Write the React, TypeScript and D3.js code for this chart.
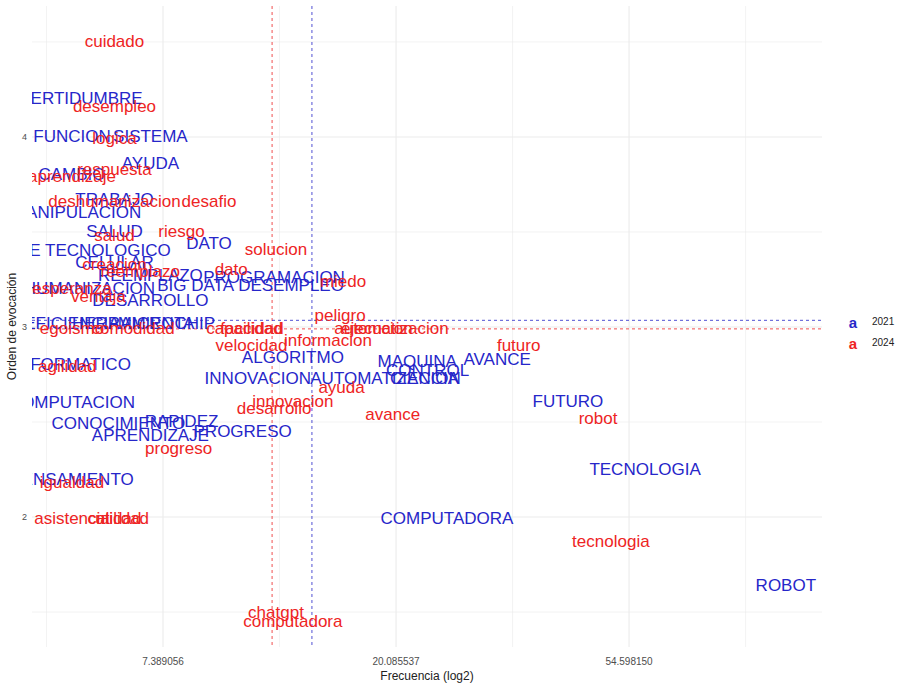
import React from "react";
import * as d3 from "d3";

// ---- data (frequency, evocation order) ----
const words2021 = [
  "INCERTIDUMBRE", "FUNCION", "SISTEMA", "AYUDA", "CAMBIO", "TRABAJO", "MANIPULACION",
  "SALUD", "DATO", "AVANCE TECNOLOGICO", "CELULAR", "REEMPLAZO", "PROGRAMACION",
  "DESHUMANIZACION", "BIG DATA", "DESEMPLEO", "DESARROLLO", "EFICIENCIA", "HERRAMIENTA",
  "MICROCHIP", "ALGORITMO", "MAQUINA", "AVANCE", "CONTROL", "AUTOMATIZACION", "CIENCIA",
  "INNOVACION", "INFORMATICO", "COMPUTACION", "CONOCIMIENTO", "RAPIDEZ", "PROGRESO",
  "APRENDIZAJE", "FUTURO", "TECNOLOGIA", "COMPUTADORA", "ROBOT", "PENSAMIENTO",
];
const freq2021 = [
  5, 5, 7, 7, 5, 6, 5.1,
  6, 9, 5, 6, 7, 11.9,
  5, 8.5, 12.8, 7, 5, 6.5,
  7.5, 12.9, 22, 31, 23, 19.2, 22.7,
  11.1, 5, 5, 6.1, 8, 10.4,
  7, 42, 58.5, 25, 107, 5,
];
const orden2021 = [
  4.2, 4.0, 4.0, 3.86, 3.8, 3.67, 3.6,
  3.5, 3.44, 3.4, 3.34, 3.27, 3.26,
  3.2, 3.22, 3.22, 3.14, 3.02, 3.02,
  3.02, 2.84, 2.82, 2.83, 2.77, 2.73, 2.73,
  2.73, 2.8, 2.6, 2.49, 2.5, 2.45,
  2.43, 2.61, 2.25, 1.99, 1.64, 2.2,
];

const words2024 = [
  "cuidado", "desempleo", "logica", "respuesta", "aprendizaje", "deshumanizacion", "desafio",
  "salud", "riesgo", "solucion", "creacion", "reemplazo", "dato", "miedo", "esperanza",
  "ventaja", "peligro", "egoismo", "comodidad", "capacidad", "facilidad", "automatizacion",
  "ejecucion", "futuro", "velocidad", "informacion", "ayuda", "innovacion", "desarrollo",
  "avance", "robot", "tecnologia", "chatgpt", "computadora", "progreso", "agilidad",
  "igualdad", "asistencia", "utilidad", "calidad",
];
const freq2024 = [
  6, 6, 6, 6, 5, 6, 9,
  6, 8, 12, 6, 6.7, 9.9, 16, 5,
  5.6, 15.8, 5, 6.5, 10.5, 10.8, 19.7,
  18.5, 34, 10.8, 15, 15.9, 12.9, 11.9,
  19.8, 47.8, 50.5, 12, 12.9, 7.9, 4.9,
  5, 5, 6.2, 6,
];
const orden2024 = [
  4.5, 4.16, 3.99, 3.83, 3.79, 3.66, 3.66,
  3.48, 3.5, 3.41, 3.33, 3.29, 3.3, 3.24, 3.2,
  3.16, 3.06, 2.99, 2.99, 2.99, 2.99, 2.99,
  2.99, 2.9, 2.9, 2.93, 2.68, 2.61, 2.57,
  2.54, 2.52, 1.87, 1.5, 1.45, 2.36, 2.79,
  2.18, 1.99, 1.99, 1.99,
];

const cutFreq = { y2021: 14, y2024: 11.8 };
const cutOrden = { y2021: 3.035, y2024: 2.99 };

const xTicks = [Math.exp(2), Math.exp(3), Math.exp(4)];
const xMinor = [Math.exp(1.5), Math.exp(2.5), Math.exp(3.5), Math.exp(4.5)];
const yTicks = [2, 3, 4];
const yMinor = [1.5, 2.5, 3.5, 4.5];

const seriesNames = ["2021", "2024"];
const seriesColors = ["#2626c9", "#ee2424"];

const W = 898, H = 683;
const panel = { left: 32, right: 822, top: 6, bottom: 647 };

export default function App() {
  const x = d3.scaleLog().domain([Math.exp(1.4378), Math.exp(4.828)]).range([panel.left, panel.right]);
  const y = d3.scaleLinear().domain([1.316, 4.689]).range([panel.bottom, panel.top]);
  const font = "'Liberation Sans', Arial, sans-serif";
  const grid = "#ebebeb";

  const series = [
    { words: words2021, freq: freq2021, orden: orden2021, color: seriesColors[0] },
    { words: words2024, freq: freq2024, orden: orden2024, color: seriesColors[1] },
  ];

  return (
    <svg width={W} height={H} style={{ position: "absolute", left: 0, top: 0, background: "#fff" }} fontFamily={font}>
      <defs>
        <clipPath id="pclip">
          <rect x={panel.left} y={panel.top} width={panel.right - panel.left} height={panel.bottom - panel.top} />
        </clipPath>
      </defs>
      {/* grid */}
      {xMinor.map((v, i) => (
        <line key={"xm" + i} x1={x(v)} x2={x(v)} y1={panel.top} y2={panel.bottom} stroke={grid} strokeWidth={0.6} />
      ))}
      {yMinor.map((v, i) => (
        <line key={"ym" + i} x1={panel.left} x2={panel.right} y1={y(v)} y2={y(v)} stroke={grid} strokeWidth={0.6} />
      ))}
      {xTicks.map((v, i) => (
        <line key={"xg" + i} x1={x(v)} x2={x(v)} y1={panel.top} y2={panel.bottom} stroke={grid} strokeWidth={1.1} />
      ))}
      {yTicks.map((v, i) => (
        <line key={"yg" + i} x1={panel.left} x2={panel.right} y1={y(v)} y2={y(v)} stroke={grid} strokeWidth={1.1} />
      ))}
      {/* cut lines */}
      <line x1={x(cutFreq.y2021)} x2={x(cutFreq.y2021)} y1={panel.top} y2={panel.bottom} stroke={seriesColors[0]} strokeWidth={1} strokeDasharray="3,3" opacity={0.8} />
      <line x1={x(cutFreq.y2024)} x2={x(cutFreq.y2024)} y1={panel.top} y2={panel.bottom} stroke={seriesColors[1]} strokeWidth={1} strokeDasharray="3,3" opacity={0.8} />
      <line x1={panel.left} x2={panel.right} y1={y(cutOrden.y2021)} y2={y(cutOrden.y2021)} stroke={seriesColors[0]} strokeWidth={1} strokeDasharray="3,3" opacity={0.8} />
      <line x1={panel.left} x2={panel.right} y1={y(cutOrden.y2024)} y2={y(cutOrden.y2024)} stroke={seriesColors[1]} strokeWidth={1} strokeDasharray="3,3" opacity={0.8} />
      {/* words */}
      <g clipPath="url(#pclip)">
        {series.map((s, si) =>
          s.words.map((w, i) => (
            <text key={si + "-" + i} x={x(s.freq[i])} y={y(s.orden[i])} textAnchor="middle" dominantBaseline="central" fontSize={17} fill={s.color}>
              {w}
            </text>
          ))
        )}
      </g>
      {/* axes */}
      {xTicks.map((v, i) => (
        <text key={"xt" + i} x={x(v)} y={661} textAnchor="middle" dominantBaseline="central" fontSize={10} fill="#4d4d4d">
          {v.toFixed(6)}
        </text>
      ))}
      {yTicks.map((v, i) => (
        <text key={"yt" + i} x={27} y={y(v)} textAnchor="end" dominantBaseline="central" fontSize={9} fill="#4d4d4d">
          {v}
        </text>
      ))}
      <text x={(panel.left + panel.right) / 2} y={676} textAnchor="middle" dominantBaseline="central" fontSize={12} fill="#222">
        Frecuencia (log2)
      </text>
      <text transform={`translate(12,${(panel.top + panel.bottom) / 2}) rotate(-90)`} textAnchor="middle" dominantBaseline="central" fontSize={12} fill="#222">
        Orden de evocación
      </text>
      {/* legend */}
      {seriesNames.map((n, i) => (
        <g key={"lg" + i} transform={`translate(853,${322 + i * 21})`}>
          <text x={0} y={0} textAnchor="middle" dominantBaseline="central" fontSize={15} fontWeight="bold" fill={seriesColors[i]}>a</text>
          <text x={19} y={-1} dominantBaseline="central" fontSize={10} fill="#222">{n}</text>
        </g>
      ))}
    </svg>
  );
}
